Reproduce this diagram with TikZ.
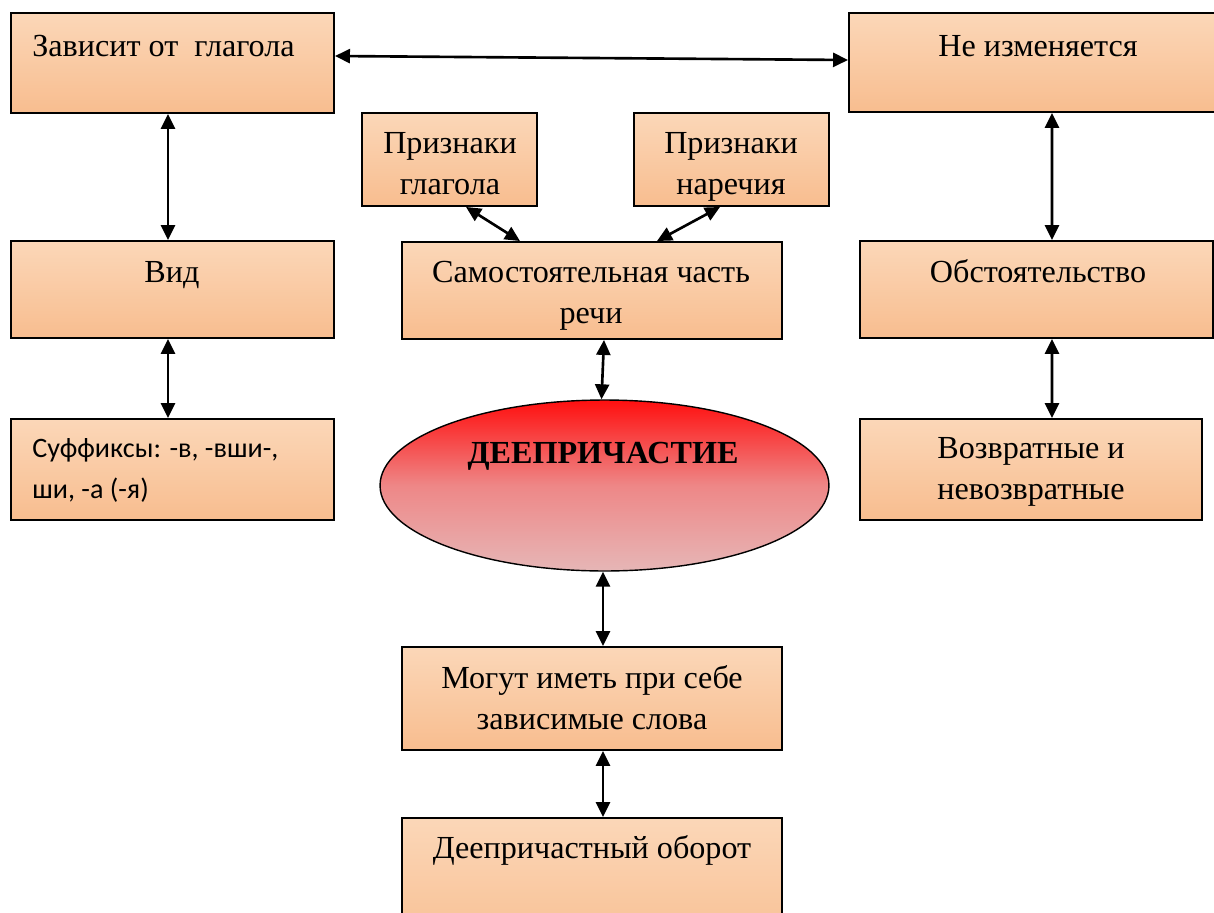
\documentclass[tikz,border=0pt]{standalone}
\usepackage{fontspec}
\setmainfont{Liberation Serif}
\newfontfamily\calibri{Carlito}
\usetikzlibrary{arrows.meta,fit,shapes.geometric}

\definecolor{boxtop}{RGB}{251,215,184}
\definecolor{boxbot}{RGB}{248,189,143}
\definecolor{elltop}{RGB}{255,15,15}
\definecolor{ellmid}{RGB}{238,135,135}
\definecolor{ellbot}{RGB}{230,182,182}

\tikzset{
  box/.style={draw,rectangle,line width=1.1pt,inner sep=0pt,top color=boxtop,bottom color=boxbot},
  txt/.style={anchor=base,inner sep=0pt,font=\fontsize{18.3}{23.8}\selectfont},
  link/.style={{Triangle[length=0.3cm,width=0.28cm]}-{Triangle[length=0.3cm,width=0.28cm]},line width=1.5pt}
}

\begin{document}
\begin{tikzpicture}[x=0.02cm,y=-0.02cm]
\useasboundingbox (0,0) rectangle (1214,913);

% boxes
\node[box,fit={(11,13) (334,113)}] (zav) {};
\node[box,fit={(849,13) (1225,112)}] (neizm) {};
\node[box,fit={(362,113) (537,206)}] (pglag) {};
\node[box,fit={(634,113) (829,206)}] (pnar) {};
\node[box,fit={(11,241) (334,338)}] (vid) {};
\node[box,fit={(402,242) (782,339)}] (sam) {};
\node[box,fit={(860,241) (1213,338)}] (obst) {};
\node[box,fit={(11,419) (334,520)}] (suf) {};
\node[box,fit={(860,419) (1202,520)}] (vozv) {};
\node[box,fit={(402,647) (782,750)}] (mog) {};
\node[box,fit={(402,818) (782,960)}] (deep) {};
\node[draw,ellipse,line width=0.8pt,inner sep=0pt,minimum width=8.98cm,minimum height=3.42cm,
  top color=elltop,bottom color=ellbot,middle color=ellmid] (dee) at (604.5,485.5) {};

% texts
\node[txt,anchor=base west] (zavT) at (32,56) {Зависит от\ \ глагола};
\node[txt] (neizmT) at (1038,56) {Не изменяется};
\node[txt] (pglagT) at (450,153) {\begin{tabular}[t]{@{}c@{}}Признаки\\глагола\end{tabular}};
\node[txt] (pnarT) at (731,153) {\begin{tabular}[t]{@{}c@{}}Признаки\\наречия\end{tabular}};
\node[txt] (vidT) at (172,282) {Вид};
\node[txt] (samT) at (591,282) {\begin{tabular}[t]{@{}c@{}}Самостоятельная часть\\речи\end{tabular}};
\node[txt] (obstT) at (1038,282) {Обстоятельство};
\node[txt,anchor=base west,font=\calibri\fontsize{16}{23.8}\selectfont] (sufT) at (32,457)
  {\begin{tabular}[t]{@{}l@{}}Суффиксы: -в, -вши-,\\ши, -а (-я)\end{tabular}};
\node[txt] (vozvT) at (1031,458) {\begin{tabular}[t]{@{}c@{}}Возвратные и\\невозвратные\end{tabular}};
\node[txt,font=\fontsize{18.3}{23.8}\selectfont\bfseries] (deeT) at (603,463) {ДЕЕПРИЧАСТИЕ};
\node[txt] (mogT) at (592,688) {\begin{tabular}[t]{@{}c@{}}Могут иметь при себе\\зависимые слова\end{tabular}};
\node[txt] (deepT) at (592,858) {Деепричастный оборот};

% connectors
\draw[link] ([shift={(0,-7)}]zav.east) -- ([shift={(0,-2.5)}]neizm.west);
\draw[link] ([shift={(-4.5,0)}]zav.south) -- ([shift={(-4.5,0)}]vid.north);
\draw[link] ([shift={(-4.5,0)}]vid.south) -- ([shift={(-4.5,0)}]suf.north);
\draw[link] ([shift={(16.5,0)}]pglag.south) -- ([shift={(-72,0)}]sam.north);
\draw[link] ([shift={(-11.5,0)}]pnar.south) -- ([shift={(65,0)}]sam.north);
\draw[link] ([shift={(12,0)}]sam.south) -- ([shift={(-3,0)}]dee.north);
\draw[link] ([shift={(-1.5,0)}]dee.south) -- ([shift={(11,0)}]mog.north);
\draw[link] ([shift={(11,0)}]mog.south) -- ([shift={(11,0)}]deep.north);
\draw[link] ([shift={(15,0)}]neizm.south) -- ([shift={(15.5,0)}]obst.north);
\draw[link] ([shift={(15.5,0)}]obst.south) -- ([shift={(21,0)}]vozv.north);
\end{tikzpicture}
\end{document}
